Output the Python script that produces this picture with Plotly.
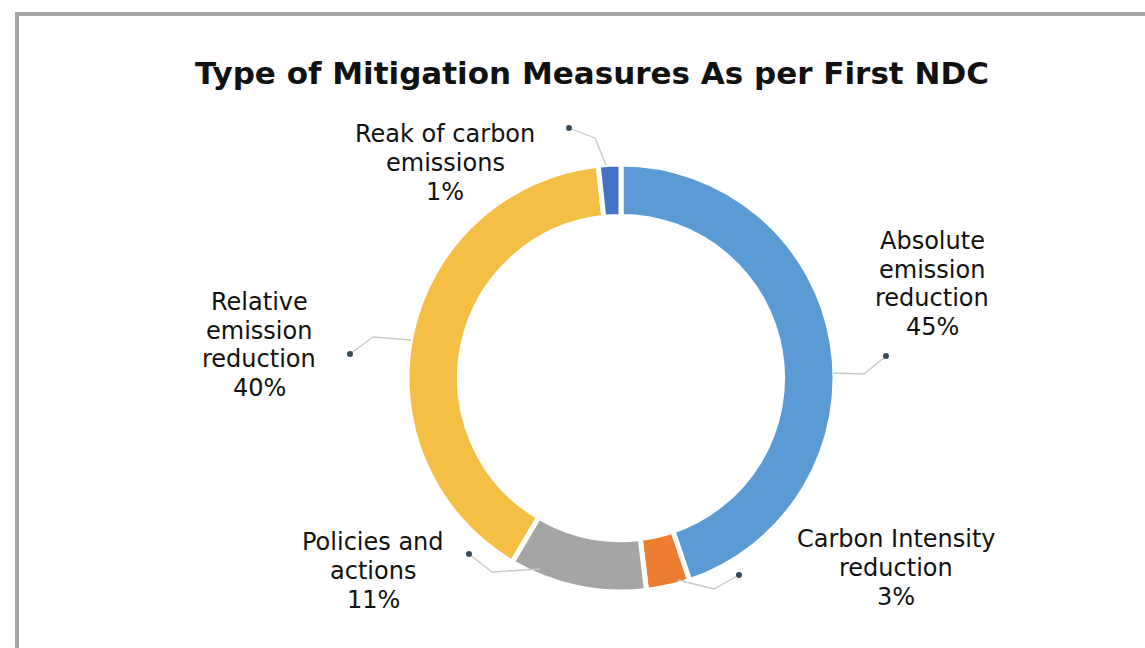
import plotly.graph_objects as go

W, H = 1145, 648

categories = ["Absolute emission reduction", "Carbon Intensity reduction",
              "Policies and actions", "Relative emission reduction",
              "Reak of carbon emissions"]
values = [44.8, 3.3, 10.4, 39.8, 1.7]
colors = ["#5B9BD5", "#ED7D31", "#A5A5A5", "#F5BE44", "#4472C4"]
label_lines = [["Absolute", "emission", "reduction", "45%"],
               ["Carbon Intensity", "reduction", "3%"],
               ["Policies and", "actions", "11%"],
               ["Relative", "emission", "reduction", "40%"],
               ["Reak of carbon", "emissions", "1%"]]

# label centers (pixels) and leader lines (dot, elbow, end) in pixels
label_pos = [(932, 284), (896, 568), (373, 571), (259, 345), (445, 163)]
leaders = [
    [(886, 356), (864, 374), (833, 373)],
    [(739, 575), (714, 589), (678, 580)],
    [(469, 554), (492, 572), (540, 569)],
    [(350, 354), (373, 337), (411, 340)],
    [(569, 128), (595, 138), (606, 165)],
]
LINE_STEP = 28.7

def px(x):
    return x / W

def py(y):
    return 1 - y / H

cx, cy, r = 621, 378, 214

fig = go.Figure()
fig.add_trace(go.Pie(
    labels=categories, values=values, sort=False, direction="clockwise",
    rotation=0, hole=0.755, textinfo="none", hoverinfo="skip",
    marker=dict(colors=colors, line=dict(color="white", width=5)),
    domain=dict(x=[px(cx - r), px(cx + r)], y=[py(cy + r), py(cy - r)]),
    showlegend=False,
))

shapes = [dict(type="rect", xref="paper", yref="paper",
               x0=px(17), x1=1.02, y0=-0.02, y1=py(14),
               line=dict(color="#A6A6A6", width=4), fillcolor="rgba(0,0,0,0)",
               layer="below")]
for pts in leaders:
    for (x0, y0), (x1, y1) in zip(pts[:-1], pts[1:]):
        shapes.append(dict(type="line", xref="paper", yref="paper",
                           x0=px(x0), y0=py(y0), x1=px(x1), y1=py(y1),
                           line=dict(color="#C3C9C9", width=1.3)))
    dx, dy = pts[0]
    shapes.append(dict(type="circle", xref="paper", yref="paper",
                       x0=px(dx - 3), x1=px(dx + 3), y0=py(dy + 3), y1=py(dy - 3),
                       fillcolor="#3A4B58", line=dict(color="#3A4B58", width=0)))

annotations = [dict(text="<b>Type of Mitigation Measures As per First NDC</b>",
                    x=px(592), y=py(73), xref="paper", yref="paper",
                    showarrow=False, xanchor="center", yanchor="middle",
                    font=dict(family="DejaVu Sans", size=31, color="#111111"))]
for lines, (lx, ly) in zip(label_lines, label_pos):
    n = len(lines)
    for i, t in enumerate(lines):
        yy = ly + (i - (n - 1) / 2) * LINE_STEP
        annotations.append(dict(text=t, x=px(lx), y=py(yy), xref="paper", yref="paper",
                                showarrow=False, xanchor="center", yanchor="middle",
                                font=dict(family="DejaVu Sans", size=24, color="#111111")))

fig.update_layout(width=W, height=H, margin=dict(l=0, r=0, t=0, b=0),
                  paper_bgcolor="white", plot_bgcolor="white",
                  shapes=shapes, annotations=annotations)

fig.write_html("out.html")
